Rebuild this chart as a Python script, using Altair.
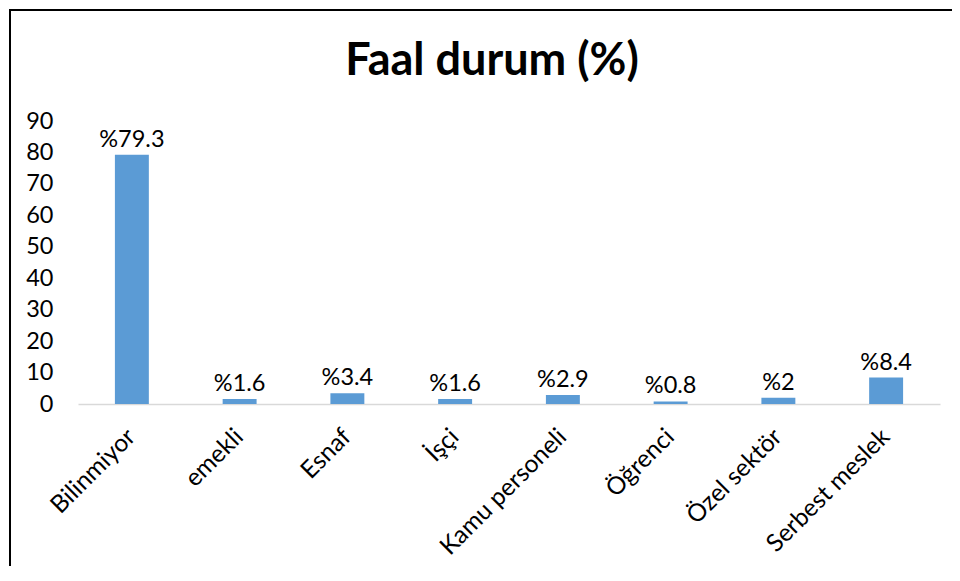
import altair as alt
import pandas as pd

categories = ["Bilinmiyor", "emekli", "Esnaf", "İşçi", "Kamu personeli",
              "Öğrenci", "Özel sektör", "Serbest meslek"]
values = [79.3, 1.6, 3.4, 1.6, 2.9, 0.8, 2, 8.4]
labels = ["%" + f"{v:g}" for v in values]
y_ticks = list(range(0, 100, 10))

df = pd.DataFrame({"cat": categories, "val": values, "lab": labels})

FONT = "Lato"

x_enc = alt.X("cat:N", sort=None, title=None,
              scale=alt.Scale(paddingInner=0.685, paddingOuter=0.3425),
              axis=alt.Axis(labelAngle=-45, labelAlign="right", labelBaseline="middle",
                            labelPadding=29, ticks=False, tickSize=0,
                            domainColor="#D9D9D9", domainWidth=1.5,
                            labelFontSize=24.5, labelColor="black", labelFont=FONT,
                            labelOverlap=False))
y_enc = alt.Y("val:Q", title=None,
              scale=alt.Scale(domain=[0, 90], nice=False),
              axis=alt.Axis(values=y_ticks, grid=False, domain=False, ticks=False,
                            tickSize=0, labelPadding=25, labelFontSize=23.5,
                            labelColor="black", labelFont=FONT, labelOverlap=False))

base = alt.Chart(df)
bars = base.mark_bar(color="#5B9BD5").encode(x=x_enc, y=y_enc)
text = base.mark_text(baseline="alphabetic", dy=-8, fontSize=23.5, font=FONT,
                      color="black").encode(x=x_enc, y=y_enc, text="lab:N")

border = alt.Chart(pd.DataFrame({"a": [0]})).mark_rect(
    fillOpacity=0, stroke="black", strokeWidth=2
).encode(x=alt.value(-68), x2=alt.value(900), y=alt.value(-111), y2=alt.value(620))

chart = alt.layer(bars, text, border).properties(
    width=862, height=283,
    autosize=alt.AutoSizeParams(type="none"),
    padding={"left": 70, "top": 113, "right": 12, "bottom": 162},
    title=alt.TitleParams("Faal durum (%)", fontSize=45, fontWeight="bold", font=FONT,
                          color="black", anchor="middle", dx=-17, offset=-111,
                          baseline="alphabetic"),
).configure_view(stroke=None)

chart.save("out.html", embed_options={"renderer": "svg", "actions": False})
